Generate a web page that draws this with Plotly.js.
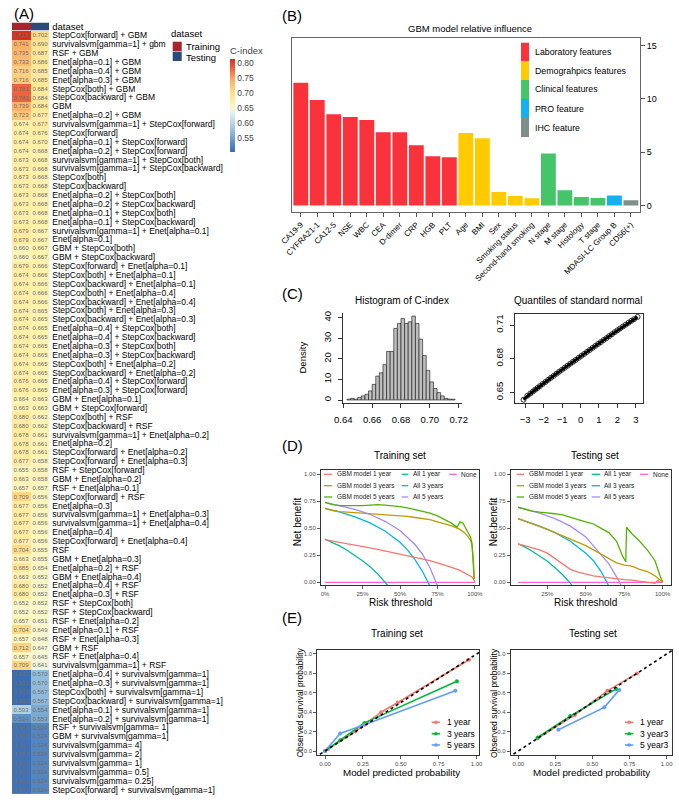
<!DOCTYPE html>
<html><head><meta charset="utf-8">
<script src="https://cdn.plot.ly/plotly-3.0.1.min.js"></script>
<style>html,body{margin:0;padding:0;background:#fff}#chart{width:679px;height:800px}</style>
</head><body><div id="chart"></div>
<script>
// ---------------- DATA ----------------
// (A) C-index heatmap
const modelNames = [
"StepCox[forward] + GBM","survivalsvm[gamma=1] + gbm","RSF + GBM","Enet[alpha=0.1] + GBM","Enet[alpha=0.4] + GBM",
"Enet[alpha=0.3] + GBM","StepCox[both] + GBM","StepCox[backward] + GBM","GBM","Enet[alpha=0.2] + GBM",
"survivalsvm[gamma=1] + StepCox[forward]","StepCox[forward]","Enet[alpha=0.1] + StepCox[forward]","Enet[alpha=0.2] + StepCox[forward]",
"survivalsvm[gamma=1] + StepCox[both]","survivalsvm[gamma=1] + StepCox[backward]","StepCox[both]","StepCox[backward]",
"Enet[alpha=0.2] + StepCox[both]","Enet[alpha=0.2] + StepCox[backward]","Enet[alpha=0.1] + StepCox[both]","Enet[alpha=0.1] + StepCox[backward]",
"survivalsvm[gamma=1] + Enet[alpha=0.1]","Enet[alpha=0.1]","GBM + StepCox[both]","GBM + StepCox[backward]",
"StepCox[forward] + Enet[alpha=0.1]","StepCox[both] + Enet[alpha=0.1]","StepCox[backward] + Enet[alpha=0.1]","StepCox[both] + Enet[alpha=0.4]",
"StepCox[backward] + Enet[alpha=0.4]","StepCox[both] + Enet[alpha=0.3]","StepCox[backward] + Enet[alpha=0.3]","Enet[alpha=0.4] + StepCox[both]",
"Enet[alpha=0.4] + StepCox[backward]","Enet[alpha=0.3] + StepCox[both]","Enet[alpha=0.3] + StepCox[backward]","StepCox[both] + Enet[alpha=0.2]",
"StepCox[backward] + Enet[alpha=0.2]","Enet[alpha=0.4] + StepCox[forward]","Enet[alpha=0.3] + StepCox[forward]","GBM + Enet[alpha=0.1]",
"GBM + StepCox[forward]","StepCox[both] + RSF","StepCox[backward] + RSF","survivalsvm[gamma=1] + Enet[alpha=0.2]","Enet[alpha=0.2]",
"StepCox[forward] + Enet[alpha=0.2]","StepCox[forward] + Enet[alpha=0.3]","RSF + StepCox[forward]","GBM + Enet[alpha=0.2]",
"RSF + Enet[alpha=0.1]","StepCox[forward] + RSF","Enet[alpha=0.3]","survivalsvm[gamma=1] + Enet[alpha=0.3]","survivalsvm[gamma=1] + Enet[alpha=0.4]",
"Enet[alpha=0.4]","StepCox[forward] + Enet[alpha=0.4]","RSF","GBM + Enet[alpha=0.3]","Enet[alpha=0.2] + RSF","GBM + Enet[alpha=0.4]",
"Enet[alpha=0.4] + RSF","Enet[alpha=0.3] + RSF","RSF + StepCox[both]","RSF + StepCox[backward]","RSF + Enet[alpha=0.2]","Enet[alpha=0.1] + RSF",
"RSF + Enet[alpha=0.3]","GBM + RSF","RSF + Enet[alpha=0.4]","survivalsvm[gamma=1] + RSF","Enet[alpha=0.4] + survivalsvm[gamma=1]",
"Enet[alpha=0.3] + survivalsvm[gamma=1]","StepCox[both] + survivalsvm[gamma=1]","StepCox[backward] + survivalsvm[gamma=1]",
"Enet[alpha=0.1] + survivalsvm[gamma=1]","Enet[alpha=0.2] + survivalsvm[gamma=1]","RSF + survivalsvm[gamma= 1]","GBM + survivalsvm[gamma=1]",
"survivalsvm[gamma= 4]","survivalsvm[gamma= 2]","survivalsvm[gamma= 1]","survivalsvm[gamma= 0.5]","survivalsvm[gamma= 0.25]",
"StepCox[forward] + survivalsvm[gamma=1]"];
const trainCindex = [0.813,0.741,0.735,0.733,0.716,0.716,0.781,0.781,0.739,0.723,
0.674,0.674,0.674,0.674,0.673,0.673,0.673,0.673,0.673,0.673,0.673,0.673,
0.679,0.679,0.660,0.660,
0.679,0.674,0.674,0.674,0.674,0.674,0.674,0.674,0.674,0.674,0.674,0.674,0.674,0.676,0.676,
0.664,0.663,0.680,0.680,0.678,0.678,0.678,0.677,0.655,0.663,0.657,0.709,0.677,0.677,0.677,0.677,0.677,0.704,0.663,0.685,0.663,0.680,0.680,0.652,0.652,0.657,0.704,0.657,0.712,0.657,0.709,
0.501,0.501,0.503,0.503,0.593,0.534,0.508,0.508,0.507,0.507,0.507,0.507,0.507,0.507];
const testCindex = [0.702,0.690,0.687,0.686,0.685,0.685,0.684,0.684,0.684,0.677,
0.677,0.676,0.670,0.668,0.668,0.668,0.668,0.668,0.668,0.668,0.668,0.668,
0.667,0.667,0.667,0.667,
0.666,0.666,0.666,0.666,0.666,0.665,0.665,0.665,0.665,0.665,0.665,0.665,0.665,0.665,0.665,
0.663,0.663,0.662,0.662,0.661,0.661,0.661,0.658,0.658,0.658,0.657,0.656,0.656,0.656,0.656,0.656,0.656,0.655,0.655,0.654,0.652,0.652,0.652,0.652,0.652,0.651,0.649,0.648,0.647,0.645,0.641,
0.570,0.570,0.567,0.567,0.554,0.553,0.524,0.524,0.524,0.524,0.524,0.524,0.524,0.524];
const datasetNames = ["Training","Testing"];

// (B) GBM relative influence
const featureNames = ["CA19-9","CYFRA21-1","CA12-5","NSE","WBC","CEA","D-dimer","CRP","HGB","PLT","Age","BMI","Sex",
"Smoking status","Second-hand smoking","N stage","M stage","Histology","T stage","MDASI-LC Group B","CD56(+)"];
const featureInfluence = [11.5,9.9,8.56,8.3,8.02,6.87,6.87,5.65,4.62,4.53,6.8,6.31,1.28,0.91,0.69,4.87,1.44,0.81,0.72,0.94,0.5];
const featureGroup = ["Laboratory features","Laboratory features","Laboratory features","Laboratory features","Laboratory features",
"Laboratory features","Laboratory features","Laboratory features","Laboratory features","Laboratory features",
"Demograhpics features","Demograhpics features","Demograhpics features","Demograhpics features","Demograhpics features",
"Clinical features","Clinical features","Clinical features","Clinical features","PRO feature","IHC feature"];
const groupNames = ["Laboratory features","Demograhpics features","Clinical features","PRO feature","IHC feature"];

// (C) bootstrap C-index histogram (bin starts, width 0.0025) and QQ
const histBinStart = [0.6425,0.645,0.6475,0.65,0.6525,0.655,0.6575,0.66,0.6625,0.665,0.6675,0.67,0.6725,0.675,0.6775,0.68,0.6825,0.685,0.6875,0.69,0.6925,0.695,0.6975,0.70,0.7025,0.705,0.7075,0.71,0.7125,0.715];
const histDensity  = [0.4,0.8,0.4,1.2,2.0,2.8,4.4,7.6,11.6,13.2,17.2,23.6,23.6,34.8,37.2,39.6,37.2,38.0,40.8,37.2,29.6,21.6,14.4,8.8,5.6,3.6,2.0,0.8,0.4,0.4];
const qqTheoretical = [-3.09,-2.88,-2.72,-2.58,-2.45,-2.33,-2.2,-2.05,-1.9,-1.75,-1.6,-1.45,-1.3,-1.15,-1.0,-0.85,-0.7,-0.55,-0.4,-0.25,-0.1,0.05,0.2,0.35,0.5,0.65,0.8,0.95,1.1,1.25,1.4,1.55,1.7,1.85,2.0,2.15,2.3,2.45,2.6,2.75,2.9,3.09];
const qqSample = [0.6435,0.6470,0.6490,0.6508,0.6525,0.6540,0.6556,0.6575,0.6593,0.6612,0.6630,0.6648,0.6667,0.6685,0.6702,0.6720,0.6738,0.6756,0.6773,0.6790,0.6808,0.6826,0.6843,0.6861,0.6878,0.6896,0.6914,0.6931,0.6948,0.6966,0.6983,0.7001,0.7018,0.7036,0.7053,0.7070,0.7087,0.7103,0.7120,0.7137,0.7152,0.7172];

// (D) decision curves
const dcaLabels = ["GBM model 1 year","GBM model 3 years","GBM model 5 years","All 1 year","All 3 years","All 5 years","None"];
const trGbm1T = [0,0.05,0.1,0.15,0.2,0.25,0.3,0.35,0.4,0.45,0.5,0.55,0.6,0.65,0.7,0.75,0.8,0.85,0.9,0.93,0.96,0.98,0.99,1.0];
const trGbm1N = [0.395,0.38,0.37,0.355,0.345,0.335,0.318,0.305,0.29,0.277,0.262,0.25,0.235,0.218,0.2,0.18,0.16,0.135,0.11,0.09,0.07,0.05,0.03,0.0];
const trGbm3T = [0,0.05,0.1,0.15,0.2,0.25,0.3,0.35,0.4,0.45,0.5,0.55,0.6,0.65,0.7,0.75,0.8,0.85,0.9,0.93,0.95,0.97,0.98,0.99,0.995];
const trGbm3N = [0.685,0.665,0.655,0.65,0.645,0.643,0.64,0.635,0.63,0.622,0.615,0.61,0.6,0.59,0.58,0.56,0.54,0.52,0.49,0.46,0.43,0.39,0.35,0.2,0.03];
const trGbm5T = [0,0.05,0.1,0.15,0.2,0.25,0.3,0.35,0.4,0.45,0.5,0.55,0.6,0.65,0.7,0.75,0.8,0.84,0.87,0.88,0.9,0.92,0.95,0.97,0.98,0.99,0.995];
const trGbm5N = [0.74,0.72,0.71,0.71,0.705,0.71,0.715,0.72,0.715,0.71,0.7,0.69,0.675,0.66,0.64,0.615,0.58,0.55,0.52,0.51,0.56,0.55,0.47,0.42,0.36,0.1,0.03];
const trAll1T = [0,0.05,0.1,0.15,0.2,0.25,0.3,0.35,0.4,0.43];
const trAll1N = [0.40,0.37,0.335,0.295,0.25,0.2,0.145,0.08,0.0,-0.05];
const trAll3T = [0,0.1,0.2,0.3,0.4,0.5,0.55,0.6,0.65,0.69,0.72];
const trAll3N = [0.685,0.65,0.605,0.55,0.475,0.37,0.3,0.21,0.1,0.0,-0.09];
const trAll5T = [0,0.1,0.2,0.3,0.4,0.5,0.6,0.65,0.7,0.74,0.77];
const trAll5N = [0.74,0.71,0.675,0.63,0.565,0.48,0.35,0.26,0.135,0.0,-0.1];
const trNoneT = [0,1.0];
const trNoneN = [0,0];
const teGbm1T = [0.06,0.1,0.15,0.2,0.25,0.3,0.35,0.4,0.45,0.5,0.55,0.6,0.65,0.7,0.75,0.8,0.85,0.9,0.95,0.97,0.98];
const teGbm1N = [0.355,0.34,0.32,0.3,0.27,0.22,0.17,0.12,0.095,0.075,0.06,0.05,0.04,0.035,0.025,0.02,0.01,0.005,-0.01,0.02,0.0];
const teGbm3T = [0.06,0.1,0.15,0.2,0.25,0.3,0.35,0.4,0.45,0.5,0.55,0.6,0.65,0.7,0.75,0.8,0.85,0.9,0.95,0.98,1.0];
const teGbm3N = [0.59,0.57,0.545,0.52,0.49,0.46,0.43,0.4,0.37,0.34,0.3,0.26,0.22,0.18,0.16,0.15,0.12,0.1,0.06,0.02,0.0];
const teGbm5T = [0.06,0.1,0.15,0.2,0.25,0.3,0.35,0.4,0.45,0.5,0.55,0.6,0.65,0.7,0.72,0.74,0.76,0.765,0.8,0.85,0.9,0.95,0.98,1.0];
const teGbm5N = [0.695,0.68,0.66,0.65,0.645,0.635,0.625,0.6,0.58,0.56,0.54,0.5,0.46,0.38,0.3,0.24,0.19,0.51,0.45,0.38,0.3,0.2,0.07,0.0];
const teAll1T = [0.06,0.1,0.15,0.2,0.25,0.3,0.35,0.4,0.43];
const teAll1N = [0.355,0.33,0.29,0.245,0.195,0.135,0.07,-0.01,-0.06];
const teAll3T = [0.06,0.1,0.2,0.3,0.4,0.5,0.55,0.6,0.64,0.67];
const teAll3N = [0.59,0.57,0.52,0.46,0.38,0.27,0.2,0.1,0.0,-0.09];
const teAll5T = [0.06,0.1,0.2,0.3,0.4,0.5,0.6,0.65,0.7,0.72,0.75];
const teAll5N = [0.695,0.68,0.64,0.59,0.52,0.42,0.26,0.17,0.05,0.0,-0.1];
const teNoneT = [0.06,1.0];
const teNoneN = [0,0];

// (E) calibration
const calTrainLabels = ["1 year","3 years","5 years"];
const calTestLabels = ["1 year","3 year3","5 year3"];
const calTr1X = [0.02,0.2,0.37,0.48,0.95]; const calTr1Y = [0.02,0.2,0.4,0.5,0.94];
const calTr3X = [0.0,0.1,0.26,0.87];      const calTr3Y = [0.0,0.11,0.29,0.72];
const calTr5X = [0.0,0.1,0.26,0.86];      const calTr5Y = [0.0,0.18,0.27,0.62];
const calTe1X = [0.13,0.38,0.6,0.8];      const calTe1Y = [0.13,0.37,0.62,0.8];
const calTe3X = [0.13,0.35,0.66];         const calTe3Y = [0.14,0.36,0.64];
const calTe5X = [0.27,0.58,0.68];         const calTe5Y = [0.22,0.45,0.63];
const refDiag = [-0.1,1.1];

// ---------------- STYLE / LAYOUT ----------------
const W=679,H=800;
const F='"Liberation Sans", Arial, sans-serif';
const px=x=>x/W, py=y=>1-y/H;
const dom=(a,b)=>[a/W,b/W], domY=(top,bot)=>[1-bot/H,1-top/H];
const groupColors = {"Laboratory features":"#F9323C","Demograhpics features":"#FDCB00","Clinical features":"#45C46A","PRO feature":"#14B1F2","IHC feature":"#7E8E8A"};
const dcaColors = ["#F8766D","#C49A00","#53B400","#00C094","#00B6EB","#A58AFF","#FB61D7"];
const calColors = ["#F8766D","#00BA38","#619CFF"];
const setColors = ["#A8232E","#2C4A7A"];

const traces=[]; const shapes=[]; const ann=[];
function A(text,x,y,size,o){o=o||{};ann.push({text:text,x:px(x),y:py(y),xref:'paper',yref:'paper',showarrow:false,
  font:{family:F,size:size,color:o.color||'#000'},xanchor:o.xa||'center',yanchor:o.ya||'middle',textangle:o.angle||0});}
function R(x0,x1,y0,y1,c){shapes.push({type:'rect',xref:'paper',yref:'paper',x0:px(x0),x1:px(x1),y0:py(y1),y1:py(y0),fillcolor:c,line:{width:0}});}
function L(x0,x1,y0,y1,c,w,d){shapes.push({type:'line',xref:'paper',yref:'paper',x0:px(x0),x1:px(x1),y0:py(y0),y1:py(y1),line:{color:c,width:w||1.2,dash:d||'solid'}});}
function C(x,y,r,c){shapes.push({type:'circle',xref:'paper',yref:'paper',x0:px(x-r),x1:px(x+r),y0:py(y+r),y1:py(y-r),fillcolor:c,line:{width:0}});}

// ---- (A) heatmap
const rowIdx = modelNames.map((_,i)=>i);
const cz = modelNames.map((_,i)=>[trainCindex[i],testCindex[i]]);
const zlo=0.501, zhi=0.813, nz=v=>(v-zlo)/(zhi-zlo);
const cscale=[[0,'#3B6BB0'],[nz(0.53),'#5A8CC3'],[nz(0.56),'#86B2D7'],[nz(0.59),'#ADCDE5'],[nz(0.62),'#D6E8F0'],[nz(0.645),'#F6F7D6'],
 [nz(0.665),'#FFF3AE'],[nz(0.70),'#FEDF8A'],[nz(0.725),'#FDC576'],[nz(0.75),'#FBA35C'],[nz(0.78),'#EE6442'],[1,'#D7301F']];
traces.push({type:'heatmap',x:[0,1],y:rowIdx,z:cz,zmin:zlo,zmax:zhi,colorscale:cscale,xaxis:'x',yaxis:'y',
  texttemplate:'%{z:.3f}',textfont:{family:F,size:6,color:'#6E6E6E'},hoverinfo:'skip',
  colorbar:{x:px(230),xanchor:'left',y:py(43.4),yanchor:'top',len:109,lenmode:'pixels',thickness:5,xpad:0,ypad:0,outlinewidth:0,
    tickvals:[0.55,0.6,0.65,0.7,0.75,0.8],ticktext:['0.55','0.60','0.65','0.70','0.75','0.80'],ticks:'',tickfont:{family:F,size:8.5},
    title:{text:'C-index',side:'top',font:{family:F,size:9.5}}}});
traces.push({type:'heatmap',x:[0,1],y:[0],z:[[0,1]],zmin:0,zmax:1,showscale:false,xaxis:'x2',yaxis:'y2',hoverinfo:'skip',
  colorscale:[[0,setColors[0]],[0.5,setColors[0]],[0.5,setColors[1]],[1,setColors[1]]]});
A('dataset',169,33.5,9.5,{xa:'left'});
R(172.7,181.7,41.7,51.2,setColors[0]); R(172.7,181.7,51.7,61,setColors[1]);
A(datasetNames[0],183.5,46.5,9.5,{xa:'left'}); A(datasetNames[1],183.5,57,9.5,{xa:'left'});

// ---- (B) bars
traces.push({type:'bar',x:featureNames.map((_,i)=>i),y:featureInfluence,xaxis:'x3',yaxis:'y3',
  marker:{color:featureGroup.map(g=>groupColors[g]),line:{width:0}},hoverinfo:'skip'});
const bRows=[[42.7,61],[61,80],[80,99],[99,118],[118,137]];
groupNames.forEach((g,i)=>{R(521,529,bRows[i][0],bRows[i][1],groupColors[g]); A(g,533,(bRows[i][0]+bRows[i][1])/2,8.8,{xa:'left'});});
A('GBM model relative influence',470,28.5,9.5);

// ---- (C) histogram + QQ
const binW=0.0025;
traces.push({type:'bar',x:histBinStart.map(s=>s+binW/2),y:histDensity,width:binW,xaxis:'x4',yaxis:'y4',
  marker:{color:'#BEBEBE',line:{color:'#111',width:0.6}},hoverinfo:'skip'});
traces.push({type:'scatter',mode:'lines+markers',x:qqTheoretical,y:qqSample,xaxis:'x5',yaxis:'y5',
  line:{color:'#000',width:3},marker:{symbol:'circle-open',size:5,color:'#000',line:{width:0.8}},hoverinfo:'skip'});
A('Histogram of C-index',402,300,10);
A('Quantiles of standard normal',578,300,10);
A('Density',301.5,358,9.5,{angle:-90});

// ---- (D) DCA
const trD=[[trGbm1T,trGbm1N],[trGbm3T,trGbm3N],[trGbm5T,trGbm5N],[trAll1T,trAll1N],[trAll3T,trAll3N],[trAll5T,trAll5N],[trNoneT,trNoneN]];
const teD=[[teGbm1T,teGbm1N],[teGbm3T,teGbm3N],[teGbm5T,teGbm5N],[teAll1T,teAll1N],[teAll3T,teAll3N],[teAll5T,teAll5N],[teNoneT,teNoneN]];
const dOrder=[6,3,4,5,1,2,0];
dOrder.forEach(k=>{traces.push({type:'scatter',mode:'lines',x:trD[k][0],y:trD[k][1],xaxis:'x6',yaxis:'y6',line:{color:dcaColors[k],width:1.3},hoverinfo:'skip'});});
dOrder.forEach(k=>{traces.push({type:'scatter',mode:'lines',x:teD[k][0],y:teD[k][1],xaxis:'x7',yaxis:'y7',line:{color:dcaColors[k],width:1.3},hoverinfo:'skip'});});
function dLegend(cols){
  const rows=[474.3,485.7,497];
  const pos=[[0,0],[0,1],[0,2],[1,0],[1,1],[1,2],[2,0]];
  dcaLabels.forEach((lab,k)=>{const c=cols[pos[k][0]],y=rows[pos[k][1]];L(c[0],c[1],y,y,dcaColors[k],1.3);A(lab,c[2],y,6.5,{xa:'left',color:'#222'});});
}
dLegend([[324,332.3,335],[401.7,408.3,410.7],[449.3,456.7,459]]);
dLegend([[516.7,524,526.7],[591.7,600,601.7],[640,648.3,650.7]]);
A('Training set',400,455.7,10); A('Testing set',595,455.7,10);
A('Net benefit',297.5,521.7,10,{angle:-90}); A('Net benefit',493.5,521.7,10,{angle:-90});
A('Risk threshold',400,602.5,10); A('Risk threshold',585,602.5,10);

// ---- (E) calibration
const trE=[[calTr1X,calTr1Y],[calTr3X,calTr3Y],[calTr5X,calTr5Y]];
const teE=[[calTe1X,calTe1Y],[calTe3X,calTe3Y],[calTe5X,calTe5Y]];
[[trE,'x8','y8'],[teE,'x9','y9']].forEach(([set,xa,ya])=>{
  set.forEach((s,k)=>traces.push({type:'scatter',mode:'lines+markers',x:s[0],y:s[1],xaxis:xa,yaxis:ya,line:{color:calColors[k],width:1.6},marker:{color:calColors[k],size:4},hoverinfo:'skip'}));
  traces.push({type:'scatter',mode:'lines',x:refDiag,y:refDiag,xaxis:xa,yaxis:ya,line:{color:'#000',width:1.6,dash:'3px,3px'},hoverinfo:'skip'});
});
function eLegend(x0,x1,tx,labels){const rows=[722.3,733.7,745];labels.forEach((lab,k)=>{L(x0,x1,rows[k],rows[k],calColors[k],1.6);C((x0+x1)/2,rows[k],1.8,calColors[k]);A(lab,tx,rows[k],8.5,{xa:'left'});});}
eLegend(431.7,440,445,calTrainLabels);
eLegend(625,633.3,638.3,calTestLabels);
A('Training set',396.7,633.3,10); A('Testing set',592.7,633.3,10);
A('Observed survival probability',299.5,703,8.5,{angle:-90}); A('Observed survival probability',494,703,8.5,{angle:-90});
A('Model predicted probability',401.7,772.5,9.8); A('Model predicted probability',591.7,772.5,9.8);

// panel letters
A('(A)',12,14,15,{xa:'left'}); A('(B)',280,15.5,15,{xa:'left'}); A('(C)',280,293,15,{xa:'left'});
A('(D)',280,445,15,{xa:'left'}); A('(E)',280,617.5,15,{xa:'left'});

// axes
const hidden={visible:false,fixedrange:true};
const gg=(o)=>Object.assign({showline:true,mirror:true,linecolor:'#333',linewidth:1,ticks:'outside',ticklen:3,tickcolor:'#333',tickwidth:0.8,
  tickfont:{family:F,size:6,color:'#4D4D4D'},showgrid:false,zeroline:false,ticklabelstandoff:0},o);
const rx=(o)=>Object.assign({showline:true,linecolor:'#000',linewidth:0.8,ticks:'outside',ticklen:4,tickcolor:'#000',tickwidth:0.8,
  tickfont:{family:F,size:9.5,color:'#000'},showgrid:false,zeroline:false},o);

const layout={width:W,height:H,margin:{l:0,r:0,t:0,b:0},paper_bgcolor:'#fff',plot_bgcolor:'rgba(0,0,0,0)',showlegend:false,
  font:{family:F},shapes:shapes,annotations:ann,bargap:0.1,
  xaxis:Object.assign({domain:dom(12,49.3),range:[-0.5,1.5],anchor:'y'},hidden),
  yaxis:{domain:domY(30.9,794),range:[85.5,-0.5],side:'right',anchor:'x',tickvals:rowIdx,ticktext:modelNames,ticks:'',showgrid:false,zeroline:false,showline:false,
    tickfont:{family:F,size:8.5,color:'#000'},ticklabelstandoff:2},
  xaxis2:Object.assign({domain:dom(12,49.3),range:[-0.5,1.5],anchor:'y2'},hidden),
  yaxis2:{domain:domY(22.5,30.4),range:[-0.5,0.5],side:'right',anchor:'x2',tickvals:[0],ticktext:['dataset'],ticks:'',showgrid:false,zeroline:false,
    tickfont:{family:F,size:9.5,color:'#000'},ticklabelstandoff:2},
  xaxis3:{domain:dom(291.7,640),range:[-0.55,20.55],anchor:'y3',tickvals:featureNames.map((_,i)=>i),ticktext:featureNames,tickangle:-45,
    ticks:'outside',ticklen:4,tickcolor:'#555',showline:true,mirror:true,linecolor:'#666',linewidth:1,showgrid:false,zeroline:false,
    tickfont:{family:F,size:8,color:'#000'}},
  yaxis3:{domain:domY(38,212),range:[-0.6,15.7],anchor:'x3',side:'right',tickvals:[0,5,10,15],ticks:'outside',ticklen:4,tickcolor:'#555',
    showline:true,mirror:true,linecolor:'#666',linewidth:1,showgrid:false,zeroline:false,tickfont:{family:F,size:9,color:'#000'}},
  xaxis4:rx({domain:dom(342.7,462),range:[0.63958,0.7223],anchor:'y4',tickvals:[0.64,0.66,0.68,0.70,0.72],ticktext:['0.64','0.66','0.68','0.70','0.72'],ticklabelstandoff:3}),
  yaxis4:rx({domain:domY(313,403.5),range:[-1.7,42.3],anchor:'x4',tickvals:[0,10,20,30,40],tickangle:-90,ticklabelstandoff:3}),
  xaxis5:rx({domain:dom(515,643.3),range:[-3.55,3.4],anchor:'y5',mirror:true,tickvals:[-3,-2,-1,0,1,2,3],ticklabelstandoff:3}),
  yaxis5:rx({domain:domY(314,403.3),range:[0.6403,0.7198],anchor:'x5',mirror:true,tickvals:[0.65,0.68,0.71],ticktext:['0.65','0.68','0.71'],tickangle:-90,ticklabelstandoff:3}),
  xaxis6:gg({domain:dom(321,479.3),range:[-0.027,1.029],anchor:'y6',tickvals:[0,0.25,0.5,0.75,1],ticktext:['0%','25%','50%','75%','100%']}),
  yaxis6:gg({domain:domY(470,585),range:[-0.025,1.04],anchor:'x6',tickvals:[0,0.25,0.5,0.75,1],ticktext:['0.00','0.25','0.50','0.75','1.00']}),
  xaxis7:gg({domain:dom(510.7,670.7),range:[0.012,1.052],anchor:'y7',tickvals:[0.25,0.5,0.75,1],ticktext:['25%','50%','75%','100%']}),
  yaxis7:gg({domain:domY(470,585),range:[-0.025,1.04],anchor:'x7',tickvals:[0,0.25,0.5,0.75,1],ticktext:['0.00','0.25','0.50','0.75','1.00']}),
  xaxis8:gg({domain:dom(317.3,479.3),range:[-0.051,1.018],anchor:'y8',tickvals:[0,0.25,0.5,0.75,1],ticktext:['0.00','0.25','0.50','0.75','1.00']}),
  yaxis8:gg({domain:domY(650,755),range:[-0.041,1.041],anchor:'x8',tickvals:[0,0.2,0.4,0.6,0.8,1],ticktext:['0.0','0.2','0.4','0.6','0.8','1.0']}),
  xaxis9:gg({domain:dom(510.7,672.3),range:[-0.051,1.038],anchor:'y9',tickvals:[0,0.25,0.5,0.75,1],ticktext:['0.00','0.25','0.50','0.75','1.00']}),
  yaxis9:gg({domain:domY(650,755),range:[-0.041,1.041],anchor:'x9',tickvals:[0,0.2,0.4,0.6,0.8,1],ticktext:['0.0','0.2','0.4','0.6','0.8','1.0']})
};
Plotly.newPlot('chart',traces,layout,{displayModeBar:false,staticPlot:true});
</script></body></html>
